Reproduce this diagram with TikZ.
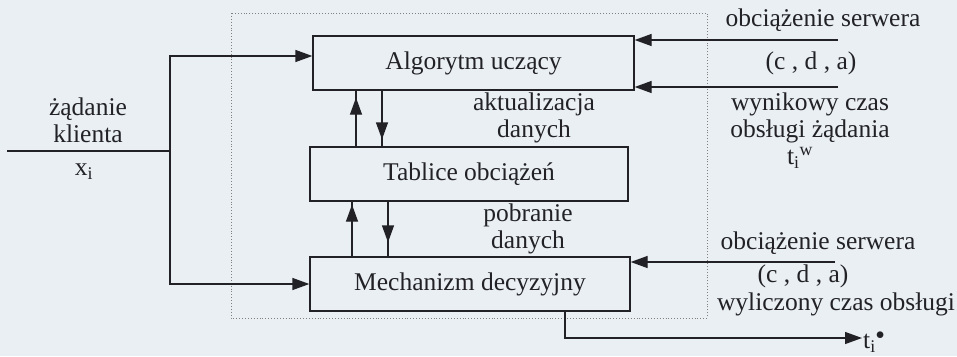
\documentclass[tikz,border=0pt]{standalone}
\usepackage{fontspec}
\setmainfont{Liberation Serif}
\usetikzlibrary{arrows.meta,decorations.markings}
\definecolor{paper}{RGB}{233,239,243}
\definecolor{ink}{RGB}{34,34,38}
\tikzset{
  x=1pt, y=-1pt,
  every node/.style={text=ink, font=\fontsize{25.5}{27}\selectfont, inner sep=0pt},
  blk/.style={draw=ink, line width=1.3pt, minimum width=#1, minimum height=54pt},
  wire/.style={draw=ink, line width=1.3pt},
  tip/.style={-{Triangle[length=17pt,width=12pt]}},
  midtip/.style={postaction={decorate}, decoration={markings,
    mark=at position #1 with {\arrow{Triangle[length=17pt,width=12pt]}}}},
  lbl/.style={align=center},
}
\begin{document}
\begin{tikzpicture}
\fill[paper] (0,0) rectangle (957,356);
\useasboundingbox (0,0) rectangle (957,356);

% system boundary
\draw[gray, dotted, line width=0.9pt] (231,13) rectangle (707,318);

% processing blocks
\node[blk=321pt] (alg)  at (473.5,63)  {Algorytm uczący};
\node[blk=318pt] (tab)  at (469,174)   {Tablice obciążeń};
\node[blk=320pt] (mech) at (470,284)   {Mechanizm decyzyjny};

% client request
\coordinate (in) at (7,151);
\coordinate (j)  at (170,151);
\draw[wire] (in) -- (j);
\draw[wire, tip] (j) |- ([yshift=7pt]alg.west);
\draw[wire, tip] (j) |- (mech.west);
\node[lbl] (req) at (88,120) {żądanie\\klienta};
\node (xi) at (84,172) {x\textsubscript{i}};

% exchange between blocks
\coordinate (u1) at (356,0);
\coordinate (d1) at (382,0);
\coordinate (u2) at (352,0);
\coordinate (d2) at (388,0);
\draw[wire, midtip=-7pt]  (tab.north -| u1) -- (alg.south -| u1);
\draw[wire, midtip=-7pt]  (alg.south -| d1) -- (tab.north -| d1);
\draw[wire, midtip=-3pt]  (mech.north -| u2) -- (tab.south -| u2);
\draw[wire, midtip=-14pt] (tab.south -| d2) -- (mech.north -| d2);
\node[lbl] (upd) at (534,118) {aktualizacja\\danych};
\node[lbl] (get) at (528,229) {pobranie\\danych};

% server load inputs
\coordinate (r1) at (838,40);
\coordinate (r2) at (838,87);
\coordinate (r3) at (835,262);
\draw[wire, tip] (r1) -- (r1 -| alg.east);
\draw[wire, tip] (r2) -- (r2 -| alg.east);
\draw[wire, tip] (r3) -- (r3 -| mech.east);
\node (load1) at (823,20) {obciążenie serwera};
\node (cda1)  at (811,63) {(c , d , a)};
\node[lbl] (res) at (810,118) {wynikowy czas\\obsługi żądania};
\node (tw) at (800,158) {t\textsubscript{i}\textsuperscript{w}};
\node (load2) at (818,243) {obciążenie serwera};
\node (cda2)  at (803,276) {(c , d , a)};

% computed service time
\coordinate (ox) at (565,0);
\coordinate (out) at (862,338);
\draw[wire, tip] (mech.south -| ox) |- (out);
\node (calc) at (836,304) {wyliczony czas obsługi};
\node[anchor=west] (ts) at (863,342) {t\textsubscript{i}\textsuperscript{$\bullet$}};
\end{tikzpicture}
\end{document}
